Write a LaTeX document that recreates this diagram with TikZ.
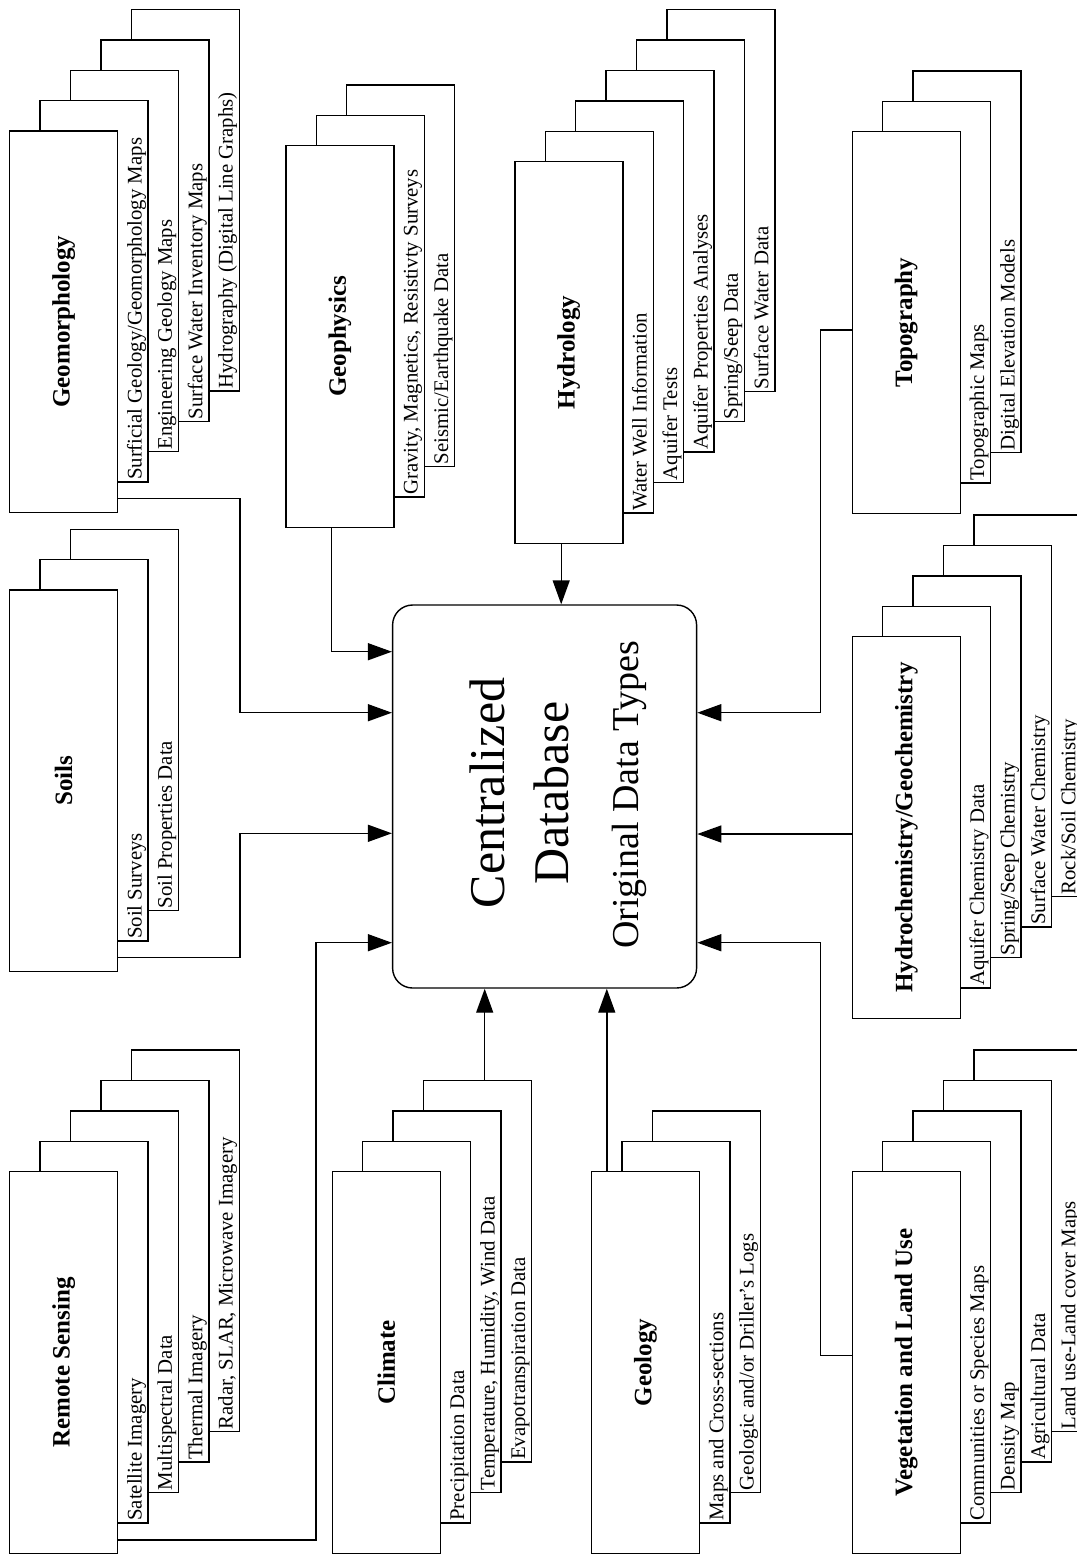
\documentclass[tikz,border=0pt]{standalone}
\usepackage{fontspec}
\setmainfont{Liberation Serif}
\usepackage{graphicx}
\usetikzlibrary{calc,arrows.meta}

\tikzset{
  foaie/.style={draw, fill=white},
  titlu/.style={draw, fill=white, minimum width=54pt, minimum height=190.75pt,
    inner sep=0pt, font=\fontsize{12.5}{15}\selectfont\bfseries},
  eticheta/.style={rotate=90, anchor=base west, inner sep=0pt,
    font=\fontsize{10.4}{12}\selectfont},
  centru/.style={draw, rounded corners=10pt, minimum width=152pt, minimum height=191.5pt},
  sageata/.style={-{Triangle[length=12pt,width=8.5pt]}},
}

% teanc de foi: nume, x, y (colt stanga sus), nr. foi, titlu, etichete
\newcommand{\teanc}[6]{%
  \foreach \k in {#4,...,1}
    \draw[foaie] ($(#2,#3)+(\k*30.4,-\k*30.4)$) rectangle ++(108,381.5);
  \foreach \lbl [count=\k] in {#6}
    \node[eticheta] (#1-\k) at ($(#2,#3)+(\k*30.4+101.5,381.5-\k*30.4-1.5)$) {\lbl};
  \node[titlu] (#1) at ($(#2,#3)+(54,190.75)$) {\rotatebox{90}{#5}};
}

\begin{document}
\begin{tikzpicture}[x=0.5pt, y=-0.5pt, line width=0.7pt]
  \useasboundingbox (0,0) rectangle (1077,1555);
  \clip (0,0) rectangle (1077,1555);

  % baza de date centrala
  \node[centru] (baza) at (544.6,796.5) {};
  \node[rotate=90, anchor=base, font=\fontsize{25}{30}\selectfont] (baza-1) at (504,793) {Centralized};
  \node[rotate=90, anchor=base, font=\fontsize{25}{30}\selectfont] (baza-2) at (568,793) {Database};
  \node[rotate=90, anchor=base, font=\fontsize{19}{23}\selectfont] (baza-3) at (638,795) {Original Data Types};

  % randul de sus
  \teanc{geomorf}{9.6}{131}{4}{Geomorphology}{{Surficial Geology/Geomorphology Maps},
    {Engineering Geology Maps}, {Surface Water Inventory Maps}, {Hydrography (Digital Line Graphs)}}
  \teanc{geofiz}{285.8}{145.7}{2}{Geophysics}{{Gravity, Magnetics, Resistivty Surveys},
    {Seismic/Earthquake Data}}
  \teanc{hidro}{514.8}{161.7}{5}{Hydrology}{{Water Well Information}, {Aquifer Tests},
    {Aquifer Properties Analyses}, {Spring/Seep Data}, {Surface Water Data}}
  \teanc{topo}{852.3}{131.7}{2}{Topography}{{Topographic Maps}, {Digital Elevation Models}}

  % randul din mijloc
  \teanc{soluri}{9.6}{590}{2}{Soils}{{Soil Surveys}, {Soil Properties Data}}
  \teanc{hidrochim}{852.3}{636.7}{4}{Hydrochemistry/Geochemistry}{{Aquifer Chemistry Data},
    {Spring/Seep Chemistry}, {Surface Water Chemistry}, {Rock/Soil Chemistry}}

  % randul de jos
  \teanc{teledet}{9.6}{1171.7}{4}{Remote Sensing}{{Satellite Imagery}, {Multispectral Data},
    {Thermal Imagery}, {Radar, SLAR, Microwave Imagery}}
  \teanc{clima}{332.3}{1171.7}{3}{Climate}{{Precipitation Data},
    {Temperature, Humidity, Wind Data}, {Evapotranspiration Data}}
  \teanc{geolog}{591.4}{1171.7}{2}{Geology}{{Maps and Cross-sections},
    {Geologic and/or Driller's Logs}}
  \teanc{veget}{852.3}{1171.7}{4}{Vegetation and Land Use}{{Communities or Species Maps},
    {Density Map}, {Agricultural Data}, {Land use-Land cover Maps}}

  % sagetile spre baza
  \draw[sageata] ([xshift=-4.2pt]geofiz.south) |- (baza.west |- 0,651.7);
  \draw[sageata] (geomorf.east |- 0,498.3) -- (240,498.3) |- (baza.west |- 0,712.7);
  \draw[sageata] (soluri.east |- 0,957.3) -- (240,957.3) |- (baza.west |- 0,833.3);
  \draw[sageata] (teledet.east |- 0,1540) -- (316,1540) |- (baza.west |- 0,942.7);
  \draw[sageata] ([shift={(98.4,-91.2)}]clima.north) coordinate (c0) -- (baza.south -| c0);
  \draw[sageata] ([xshift=-19.3pt]geolog.north) coordinate (g0) -- (baza.south -| g0);
  \draw[sageata] ([xshift=-3.8pt]hidro.south) coordinate (h0) -- (baza.north -| h0);
  \draw[sageata] (topo.west |- 0,330) -- (820.7,330) |- (baza.east |- 0,712.7);
  \draw[sageata] (hidrochim.west |- 0,834) -- (baza.east |- 0,834);
  \draw[sageata] (veget.west |- 0,1355.7) -- (820.7,1355.7) |- (baza.east |- 0,942.7);
\end{tikzpicture}
\end{document}
